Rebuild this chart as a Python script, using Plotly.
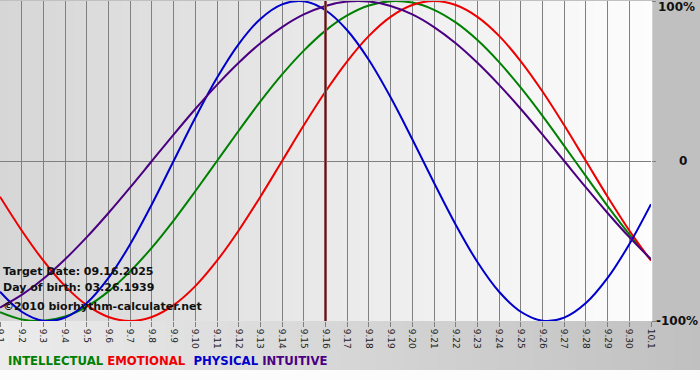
import plotly.graph_objects as go

# Days shown (Sept 1 .. Oct 1)
days = ["9.1", "9.2", "9.3", "9.4", "9.5", "9.6", "9.7", "9.8", "9.9", "9.10",
        "9.11", "9.12", "9.13", "9.14", "9.15", "9.16", "9.17", "9.18", "9.19", "9.20",
        "9.21", "9.22", "9.23", "9.24", "9.25", "9.26", "9.27", "9.28", "9.29", "9.30", "10.1"]

intellectual = [-0.945, -0.990, -0.999, -0.972, -0.910, -0.815, -0.690, -0.541, -0.372, -0.189,
                0.0, 0.189, 0.372, 0.541, 0.690, 0.815, 0.910, 0.972, 0.999, 0.990,
                0.945, 0.866, 0.756, 0.618, 0.458, 0.282, 0.095, -0.095, -0.282, -0.458, -0.618]
emotional = [-0.223, -0.434, -0.623, -0.782, -0.901, -0.975, -1.0, -0.975, -0.901, -0.782,
             -0.623, -0.434, -0.223, 0.0, 0.223, 0.434, 0.623, 0.782, 0.901, 0.975,
             1.0, 0.975, 0.901, 0.782, 0.623, 0.434, 0.223, 0.0, -0.223, -0.434, -0.623]
physical = [-0.817, -0.942, -0.998, -0.979, -0.888, -0.731, -0.520, -0.270, 0.0, 0.270,
            0.520, 0.731, 0.888, 0.979, 0.998, 0.942, 0.817, 0.631, 0.398, 0.136,
            -0.136, -0.398, -0.631, -0.817, -0.942, -0.998, -0.979, -0.888, -0.731, -0.520, -0.270]
intuitive = [-0.916, -0.837, -0.736, -0.614, -0.476, -0.325, -0.165, 0.0, 0.165, 0.325,
             0.476, 0.614, 0.736, 0.837, 0.916, 0.969, 0.997, 0.997, 0.969, 0.916,
             0.837, 0.736, 0.614, 0.476, 0.325, 0.165, 0.0, -0.165, -0.325, -0.476, -0.614]

target_day = "9.16"
target_text = "Target Date: 09.16.2025"
birth_text = "Day of birth: 03.26.1939"
credit_text = "©2010 biorhythm-calculater.net"

y_ticks = [-1, 0, 1]
y_labels = ["-100%", "0", "100%"]

series = [
    ("INTELLECTUAL", intellectual, "#008000"),
    ("EMOTIONAL", emotional, "#ee0000"),
    ("PHYSICAL", physical, "#0000cc"),
    ("INTUITIVE", intuitive, "#4b0082"),
]

W, H = 700, 380
L, R, T, B = 0, 49, 1, 59
PW = W - L - R
PH = H - T - B

fig = go.Figure()
for name, vals, col in series:
    fig.add_trace(go.Scatter(x=days, y=vals, mode="lines", name=name,
                             line=dict(color=col, width=2, shape="spline", smoothing=1.0),
                             hoverinfo="skip", showlegend=False))

def mix(c1, c2, t):
    return "rgb(%d,%d,%d)" % tuple(round(a + (b - a) * t) for a, b in zip(c1, c2))

shapes = []
# plot area gradient (grey left -> white right)
N = 80
for i in range(N):
    shapes.append(dict(type="rect", xref="paper", yref="paper",
                       x0=i / N, x1=(i + 1) / N + 0.002, y0=0, y1=1,
                       fillcolor=mix((214, 214, 214), (253, 253, 253), (i + 0.5) / N),
                       line=dict(width=0), layer="below"))
# bottom band gradient (light left -> grey right)
xr = W / PW
yb = -(370 - (T + PH)) / PH
for i in range(N):
    shapes.append(dict(type="rect", xref="paper", yref="paper",
                       x0=xr * i / N, x1=xr * (i + 1) / N + 0.002, y0=yb, y1=0,
                       fillcolor=mix((236, 236, 236), (192, 192, 192), (i + 0.5) / N),
                       line=dict(width=0), layer="below"))
# white strip at the very bottom
shapes.append(dict(type="rect", xref="paper", yref="paper", x0=-0.01, x1=xr + 0.01,
                   y0=-(B + 2) / PH, y1=yb, fillcolor="#fcfcfc", line=dict(width=0), layer="below"))
# target date line (drawn over the curves)
ti = days.index(target_day)
shapes.append(dict(type="line", xref="x", yref="paper", x0=ti, x1=ti, y0=0, y1=1,
                   line=dict(color="#9a6a6a", width=3), layer="above"))
shapes.append(dict(type="line", xref="x", yref="paper", x0=ti, x1=ti, y0=0, y1=1,
                   line=dict(color="#6a0f0f", width=1.5), layer="above"))

fig.update_layout(shapes=shapes)

txt_font = dict(family="DejaVu Sans", size=11, color="#111111", weight="bold")
def ann(text, px, py, font, xanchor="left"):
    fig.add_annotation(text=text, xref="paper", yref="paper",
                       x=(px - L) / PW, y=(T + PH - py) / PH,
                       xanchor=xanchor, yanchor="middle", showarrow=False, font=font,
                       borderpad=0)

ann(target_text, 2, 271, txt_font)
ann(birth_text, 2, 287, txt_font)
ann(credit_text, 2, 306, txt_font)

gaps = ["&nbsp;", "&nbsp;&nbsp;", "&nbsp;"]
legend_html = ""
for i, (n, _, c) in enumerate(series):
    legend_html += '<span style="color:%s">%s</span>' % (c, n)
    if i < len(gaps):
        legend_html += gaps[i]
ann(legend_html, 7, 361, dict(family="DejaVu Sans", size=11.7, color="#000", weight="bold"))

# y-axis labels in the right gutter (style offsets only)
yfont = dict(family="DejaVu Sans", size=12, color="#111", weight="bold")
label_px = {"-100%": (677, 0), "0": (683, 0), "100%": (677, -6)}
for v, lab in zip(y_ticks, y_labels):
    px, shift = label_px[lab]
    fig.add_annotation(text=lab, xref="paper", yref="y", x=(px - L) / PW, y=v,
                       xanchor="center", yanchor="middle", yshift=shift,
                       showarrow=False, font=yfont, borderpad=0)

fig.update_layout(
    width=W, height=H,
    margin=dict(l=L, r=R, t=T, b=B, pad=0),
    paper_bgcolor="#c0c0c0",
    plot_bgcolor="rgba(0,0,0,0)",
    xaxis=dict(type="category", range=[0, len(days) - 1], tickangle=90,
               showgrid=True, gridcolor="#808080", gridwidth=1,
               ticks="outside", ticklen=5, tickcolor="#808080",
               tickfont=dict(family="DejaVu Sans", size=9, color="#222"),
               zeroline=False, showline=False, automargin=False, fixedrange=True),
    yaxis=dict(range=[-1, 1], side="right", tickvals=y_ticks, showticklabels=False,
               showgrid=True, gridcolor="#808080", gridwidth=1,
               ticks="outside", ticklen=4, tickcolor="#808080",
               zeroline=False, showline=False, automargin=False, fixedrange=True),
)

fig.write_html("out.html", post_script="document.body.style.margin='0';",
               config={"displayModeBar": False})
